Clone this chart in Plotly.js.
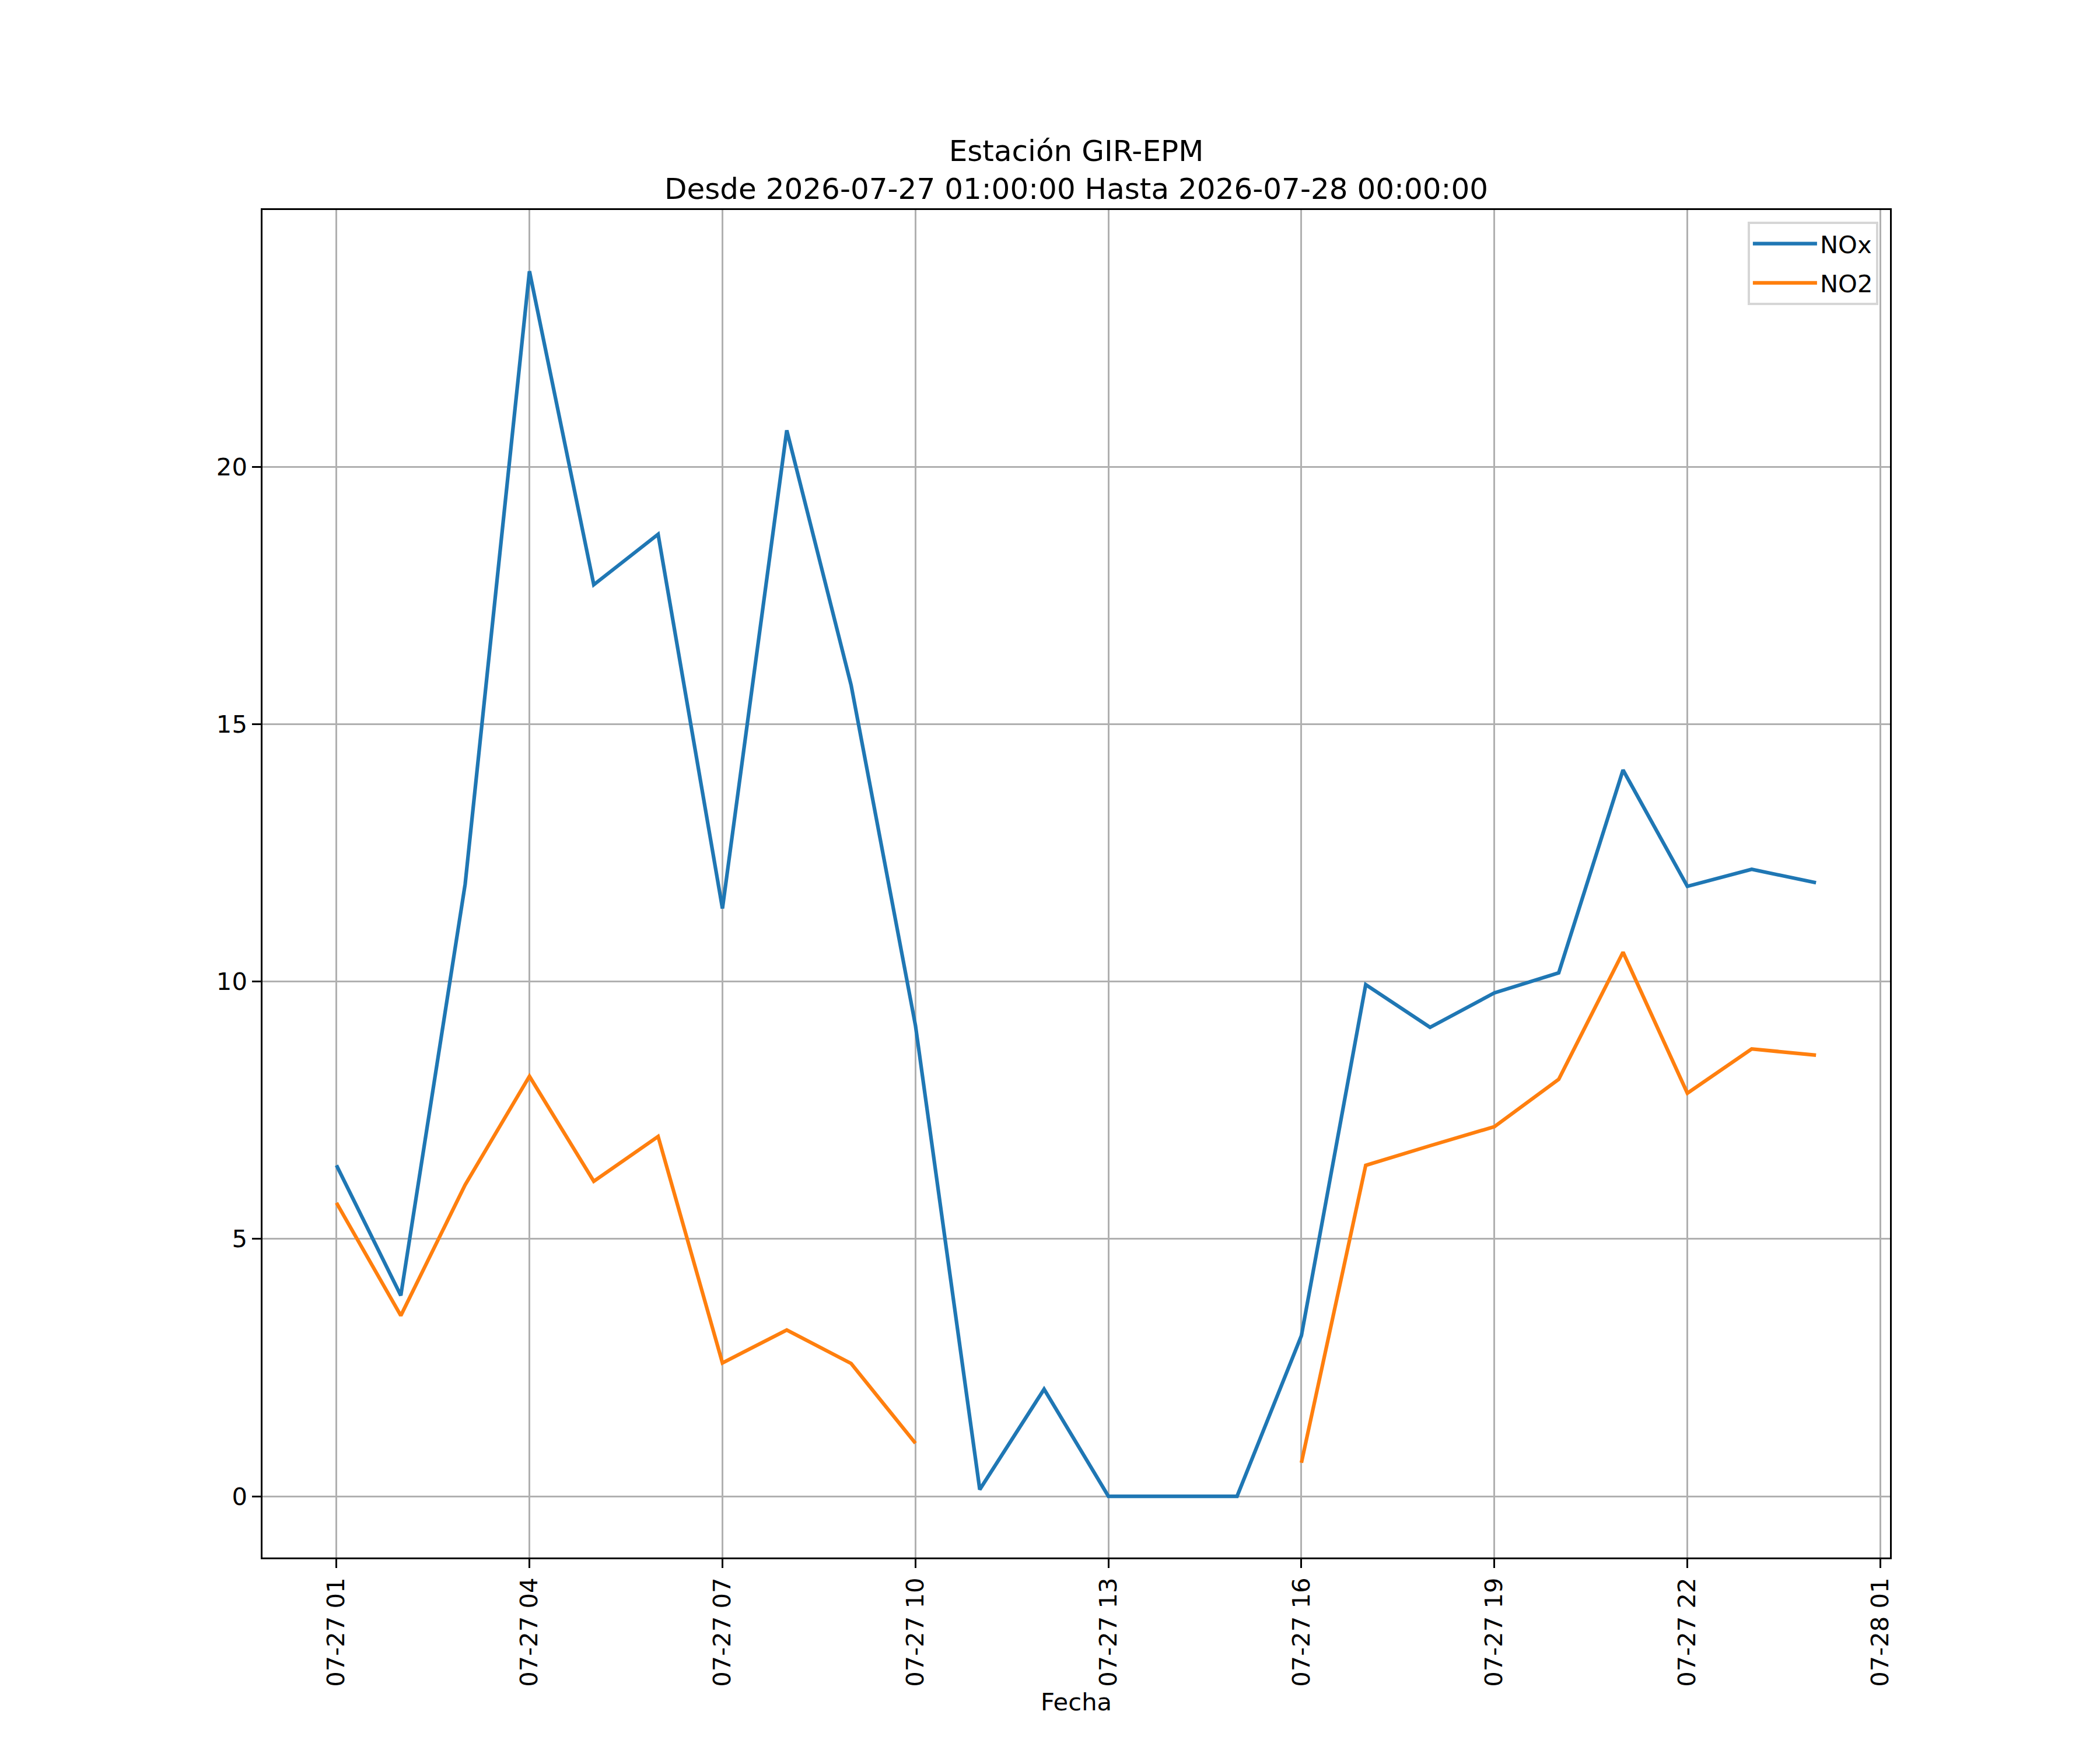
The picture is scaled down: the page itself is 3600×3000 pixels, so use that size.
<!DOCTYPE html>
<html>
<head>
<meta charset="utf-8">
<script src="https://cdn.plot.ly/plotly-3.0.1.min.js"></script>
<style>
  body { margin: 0; background: #ffffff; }
  #line-chart { width: 3600px; height: 3000px; }
</style>
</head>
<body>
<div id="line-chart"></div>
<script>
var fechas = [
    "2026-07-27 01:00", "2026-07-27 02:00", "2026-07-27 03:00", "2026-07-27 04:00",
    "2026-07-27 05:00", "2026-07-27 06:00", "2026-07-27 07:00", "2026-07-27 08:00",
    "2026-07-27 09:00", "2026-07-27 10:00", "2026-07-27 11:00", "2026-07-27 12:00",
    "2026-07-27 13:00", "2026-07-27 14:00", "2026-07-27 15:00", "2026-07-27 16:00",
    "2026-07-27 17:00", "2026-07-27 18:00", "2026-07-27 19:00", "2026-07-27 20:00",
    "2026-07-27 21:00", "2026-07-27 22:00", "2026-07-27 23:00", "2026-07-28 00:00"
];

var nox = [6.43, 3.90, 11.89, 23.80, 17.71, 18.69, 11.42, 20.71, 15.76, 9.15, 0.13, 2.08,
           0, 0, 0, 3.12, 9.94, 9.11, 9.78, 10.17, 14.11, 11.85, 12.18, 11.92];

var no2 = [5.70, 3.51, 6.05, 8.16, 6.12, 6.99, 2.59, 3.23, 2.58, 1.03, null, null,
           null, null, null, 0.65, 6.43, 6.81, 7.18, 8.10, 10.57, 7.83, 8.69, 8.57];

var fuente = "DejaVu Sans, sans-serif";
var gris = "#b0b0b0";

var trace1 = {
    x: fechas,
    y: nox,
    name: "NOx",
    legendgroup: "nox",
    type: "scatter",
    mode: "lines",
    line: {color: "#1f77b4", width: 6.25}
};

var trace2 = {
    x: fechas,
    y: no2,
    name: "NO2",
    legendgroup: "no2",
    type: "scatter",
    mode: "lines",
    connectgaps: false,
    line: {color: "#ff7f0e", width: 6.25}
};

var data = [trace1, trace2];

var layout = {
    width: 3600,
    height: 3000,
    paper_bgcolor: "#ffffff",
    plot_bgcolor: "#ffffff",
    font: {family: fuente, size: 41.7, color: "#000000"},
    margin: {l: 450, r: 360, t: 360, b: 330, pad: 0},
    showlegend: true,
    title: {
        text: "Estación GIR-EPM<br>Desde 2026-07-27 01:00:00 Hasta 2026-07-28 00:00:00",
        font: {family: fuente, size: 50, color: "#000000"},
        x: 0.5125,
        xanchor: "center",
        yref: "container",
        y: 1 - 276 / 3000,
        yanchor: "bottom"
    },
    xaxis: {
        type: "date",
        range: ["2026-07-26 23:51", "2026-07-28 01:09"],
        tick0: "2026-07-27 01:00",
        dtick: 10800000,
        tickformat: "%m-%d %H",
        tickangle: -90,
        ticks: "outside",
        ticklen: 14.6,
        tickwidth: 3.3,
        tickcolor: "#000000",
        showline: true,
        linecolor: "#000000",
        linewidth: 3.3,
        mirror: true,
        showgrid: true,
        gridcolor: gris,
        gridwidth: 3.3,
        zeroline: false,
        automargin: false,
        tickfont: {family: fuente, size: 41.7, color: "#000000"},
        title: {
            text: "Fecha",
            font: {family: fuente, size: 41.7, color: "#000000"},
            standoff: 12
        }
    },
    yaxis: {
        range: [-1.19, 24.99],
        tick0: 0,
        dtick: 5,
        ticks: "outside",
        ticklen: 14.6,
        tickwidth: 3.3,
        tickcolor: "#000000",
        showline: true,
        linecolor: "#000000",
        linewidth: 3.3,
        mirror: true,
        showgrid: true,
        gridcolor: gris,
        gridwidth: 3.3,
        zeroline: false,
        automargin: false,
        tickfont: {family: fuente, size: 41.7, color: "#000000"}
    },
    legend: {
        x: 0.9928,
        y: 0.9913,
        xanchor: "right",
        yanchor: "top",
        bgcolor: "rgba(255,255,255,0.8)",
        bordercolor: "#d6d6d6",
        borderwidth: 4,
        itemwidth: 110,
        traceorder: "grouped",
        tracegroupgap: 10,
        font: {family: fuente, size: 41.7, color: "#000000"}
    }
};

Plotly.newPlot("line-chart", data, layout, {displayModeBar: false});
</script>
</body>
</html>
